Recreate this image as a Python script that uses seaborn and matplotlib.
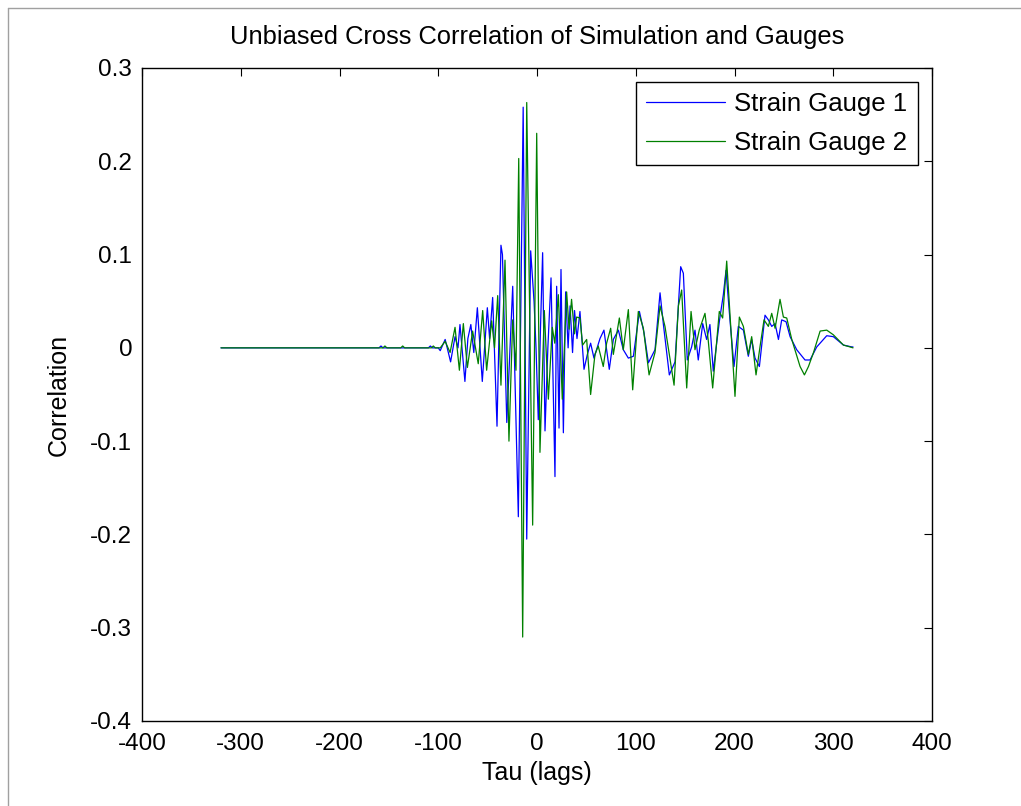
import numpy as np
import pandas as pd
import matplotlib
matplotlib.use("Agg")
import matplotlib.pyplot as plt
from matplotlib.ticker import FuncFormatter
from matplotlib.lines import Line2D
import seaborn as sns

# ---------------- data (lag, correlation) ----------------
gauge1_lag = [-320, -160, -158, -156, -110, -108, -106, -100, -98, -93, -87.5, -83, -80, -78, -73,
              -70, -67, -64, -60.4, -55.4, -50.3, -48, -44.9, -40.5, -36.5, -35, -30.6, -24.6,
              -18.9, -14, -10.4, -6.4, -3, -1, 1.3, 3.5, 5.7, 8.1, 11, 14.2, 18.2, 19.9, 22.3,
              24.3, 26.7, 29, 31.5, 33.5, 36, 38, 40.5, 43.5, 47.6, 51, 54.3, 57.7, 63.8, 67.8,
              73.2, 77.3, 82.4, 87.4, 92.5, 97.6, 103.7, 108.4, 112.8, 119.5, 124.6, 127.9, 134,
              139.8, 145.5, 148.2, 152.2, 156.6, 160, 163.3, 167.8, 171.8, 175.1, 178.5, 184.6,
              188.7, 191.4, 195.4, 199.5, 203.9, 209, 214, 217.4, 220.8, 225.2, 230.9, 234.3,
              237.7, 241.1, 244.5, 247.8, 252.2, 256.3, 263, 271.4, 276.5, 283.3, 293.4, 300.1,
              310.3, 318.7, 320]
gauge1_corr = [0, 0, 0.002, 0, 0, 0.002, 0, 0, -0.003, 0.009, -0.015, 0.012, 0.0, 0.025, -0.036,
               0.01, 0.025, -0.005, 0.043, -0.036, 0.043, 0.01, 0.054, -0.084, 0.11, 0.10, -0.080,
               0.066, -0.181, 0.258, -0.205, 0.104, 0.05, 0.0, -0.077, 0.02, 0.102, -0.089, 0.0,
               0.075, -0.138, 0.066, -0.086, 0.084, -0.091, 0.06, 0.0, 0.045, -0.005, 0.04, 0.01,
               0.039, -0.023, -0.007, 0.005, -0.011, 0.010, 0.019, -0.023, 0.009, 0.019, -0.002,
               -0.011, -0.009, 0.039, 0.016, -0.016, -0.002, 0.059, 0.026, -0.029, -0.015, 0.087,
               0.080, -0.013, 0.001, 0.019, -0.013, 0.026, 0.009, 0.025, -0.025, 0.028, 0.057,
               0.083, 0.030, -0.020, 0.023, 0.019, -0.009, 0.009, -0.011, -0.020, 0.035, 0.030,
               0.023, 0.026, 0.009, 0.030, 0.028, 0.012, -0.002, -0.013, -0.013, 0.001, 0.013,
               0.012, 0.003, 0.001, 0.001]

gauge2_lag = [-320, -156, -154, -152, -138, -136, -134, -107, -105, -103, -100, -98, -93, -88, -83,
              -78.6, -74.6, -70.5, -65.2, -59.5, -55, -51, -45.9, -43, -39.8, -36.5, -32.4, -28.4,
              -24.6, -21.3, -18.5, -14.5, -10.4, -4.4, -0.3, 3.0, 7.4, 11.5, 15.5, 18, 21.6, 25.6,
              30, 32.5, 35, 38, 40.1, 43.5, 46.2, 50.3, 54.3, 58.7, 62, 67.1, 70.5, 74.6, 77.3,
              83.4, 87.4, 92.5, 96.9, 102.6, 107.7, 113.5, 119.5, 124.6, 129.6, 138.8, 143.2,
              146.5, 151.6, 156, 160, 164.3, 170.1, 173.4, 177.9, 184.6, 188, 192.1, 196, 200.5,
              204.9, 209, 214, 217.4, 221.8, 225.8, 229.9, 234.3, 237.7, 241.1, 246.1, 249.5,
              252.9, 258, 266.4, 270.8, 274.9, 280, 286.7, 293.4, 300.1, 310.3, 317, 320]
gauge2_corr = [0, 0, 0.002, 0, 0, 0.002, 0, 0, 0.002, 0, 0, 0.0, 0.007, -0.005, 0.022,
               -0.024, 0.026, -0.021, 0.018, -0.017, 0.040, -0.024, 0.029, 0.0, 0.056, -0.040,
               0.094, -0.100, 0.03, -0.024, 0.203, -0.310, 0.263, -0.190, 0.230, -0.112, 0.040,
               -0.055, 0.022, 0.005, 0.057, -0.055, 0.060, 0.020, 0.052, 0.015, 0.033, 0.032,
               0.003, 0.009, -0.050, -0.007, 0.002, -0.020, 0.005, 0.021, -0.007, 0.032, -0.002,
               0.041, -0.045, 0.039, 0.021, -0.029, -0.005, 0.045, 0.023, -0.040, 0.045, 0.062,
               -0.043, 0.039, -0.002, 0.019, 0.037, 0.008, -0.043, 0.039, 0.032, 0.093, 0.026,
               -0.052, 0.033, 0.023, -0.007, 0.012, -0.029, 0.001, 0.030, 0.023, 0.037, 0.021,
               0.052, 0.033, 0.032, 0.009, -0.020, -0.029, -0.020, -0.005, 0.018, 0.019, 0.014,
               0.003, 0.001, 0.0]

series_names = ["Strain Gauge 1", "Strain Gauge 2"]
series_colors = ["#0000ff", "#008000"]

x_ticks = [-400, -300, -200, -100, 0, 100, 200, 300, 400]
y_ticks = [-0.4, -0.3, -0.2, -0.1, 0, 0.1, 0.2, 0.3]

title_text = "Unbiased Cross Correlation of Simulation and Gauges"
x_label = "Tau (lags)"
y_label = "Correlation"

# ---------------- styling ----------------
sns.set_style("white")
plt.rcParams["font.family"] = ["Liberation Sans", "DejaVu Sans"]
plt.rcParams["axes.unicode_minus"] = False
plt.rcParams["text.color"] = "black"
plt.rcParams["axes.labelcolor"] = "black"
plt.rcParams["xtick.color"] = "black"
plt.rcParams["ytick.color"] = "black"

fig = plt.figure(figsize=(10.21, 8.06), dpi=100)
fig.patch.set_facecolor("white")
ax = fig.add_axes([142 / 1021, 1 - 721 / 806, 790 / 1021, 653 / 806])

df1 = pd.DataFrame({"lag": gauge1_lag, "corr": gauge1_corr})
df2 = pd.DataFrame({"lag": gauge2_lag, "corr": gauge2_corr})
sns.lineplot(data=df1, x="lag", y="corr", ax=ax, color=series_colors[0], lw=0.9,
             sort=False, estimator=None, label=series_names[0])
sns.lineplot(data=df2, x="lag", y="corr", ax=ax, color=series_colors[1], lw=0.9,
             sort=False, estimator=None, label=series_names[1])

ax.set_xlim(-400, 400)
ax.set_ylim(-0.4, 0.3)
ax.set_xticks(x_ticks)
ax.set_yticks(y_ticks)
fmt = FuncFormatter(lambda v, p: "%g" % round(v, 6))
ax.xaxis.set_major_formatter(fmt)
ax.yaxis.set_major_formatter(fmt)
ax.tick_params(axis="both", direction="in", length=6, width=0.8, colors="black",
               top=True, right=True, labelsize=17.5)
ax.tick_params(axis="x", pad=9)
ax.tick_params(axis="y", pad=7)
for s in ax.spines.values():
    s.set_visible(True)
    s.set_color("black")
    s.set_linewidth(1.0)

ax.set_title(title_text, fontsize=18.4, pad=17, color="black")
ax.set_xlabel(x_label, fontsize=18, labelpad=4, color="black")
ax.set_ylabel(y_label, fontsize=18, labelpad=14, color="black")

leg = ax.legend(loc="upper right", fontsize=18.5, frameon=True, fancybox=False,
                framealpha=1, edgecolor="black", handlelength=3.1, handletextpad=0.35,
                labelspacing=0.55, borderpad=0.4, borderaxespad=0.55)
leg.get_frame().set_linewidth(1.0)
for h in leg.get_lines():
    h.set_linewidth(0.9)
for t in leg.get_texts():
    t.set_color("black")

# thin grey window border as in the screenshot
fig.add_artist(Line2D([8 / 1021, 1], [1 - 8 / 806, 1 - 8 / 806], color="#a0a0a0", lw=1,
                      transform=fig.transFigure))
fig.add_artist(Line2D([8 / 1021, 8 / 1021], [0, 1 - 8 / 806], color="#a0a0a0", lw=1,
                      transform=fig.transFigure))

fig.savefig("out.png", dpi=100, facecolor="white")
